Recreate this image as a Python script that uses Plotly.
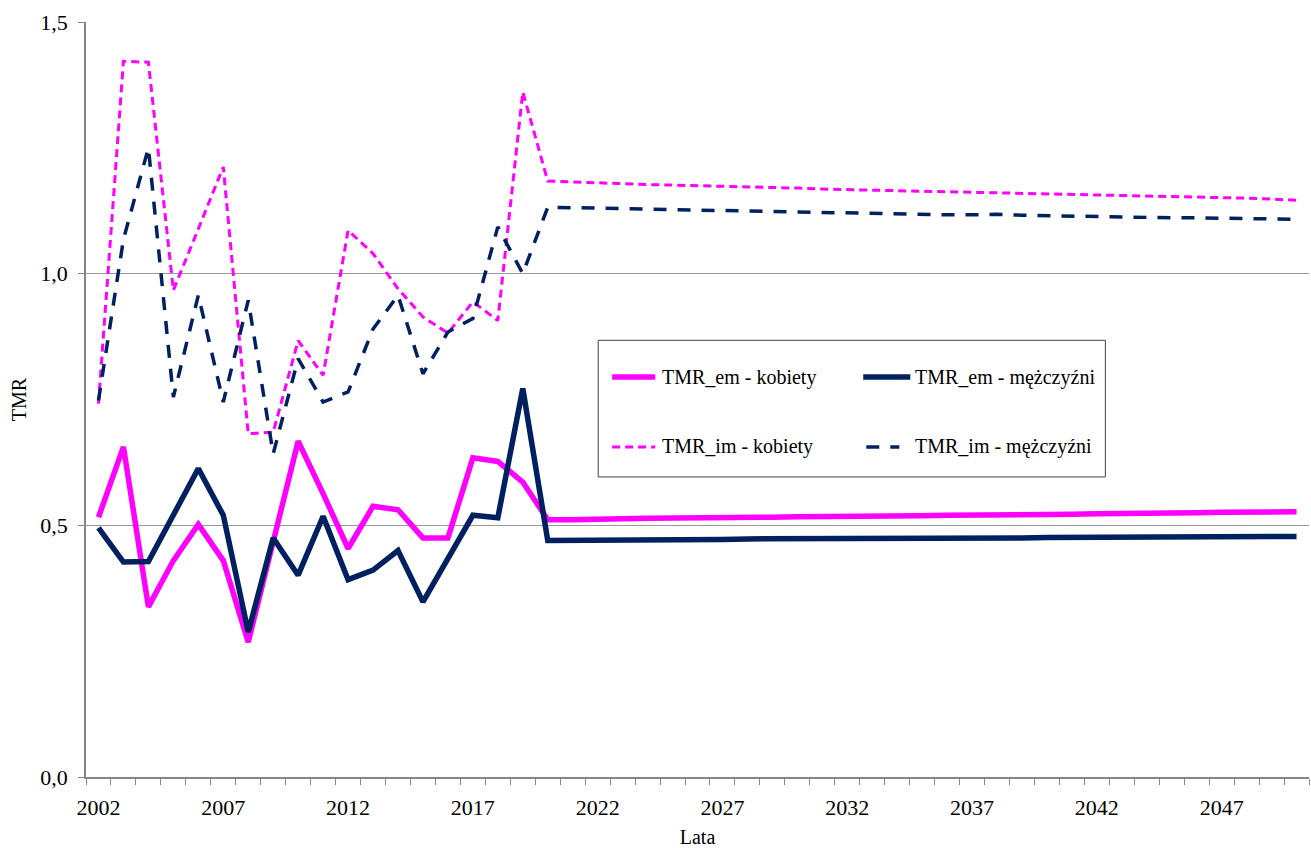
import plotly.graph_objects as go

years = list(range(2002, 2051))

em_kobiety = [0.516, 0.656, 0.338, 0.430, 0.502, 0.430, 0.268, 0.470, 0.667, 0.563,
              0.454, 0.538, 0.531, 0.475, 0.475, 0.634, 0.627, 0.586,
              0.511, 0.511, 0.513, 0.513, 0.514, 0.514, 0.515, 0.515, 0.516, 0.516,
              0.517, 0.517, 0.518, 0.518, 0.519, 0.519, 0.520, 0.520, 0.521, 0.521,
              0.522, 0.522, 0.523, 0.523, 0.524, 0.524, 0.525, 0.526, 0.526, 0.527, 0.527]

em_mezczyzni = [0.495, 0.427, 0.428, 0.520, 0.613, 0.520, 0.288, 0.475, 0.401, 0.518,
                0.392, 0.411, 0.450, 0.348, 0.434, 0.520, 0.515, 0.772,
                0.470, 0.470, 0.472, 0.472, 0.472, 0.472, 0.472, 0.472, 0.473, 0.473,
                0.473, 0.473, 0.473, 0.474, 0.474, 0.474, 0.475, 0.475, 0.474, 0.475,
                0.476, 0.476, 0.476, 0.476, 0.477, 0.477, 0.477, 0.478, 0.478, 0.478, 0.478]

im_kobiety = [0.742, 1.422, 1.420, 0.967, 1.089, 1.212, 0.682, 0.685, 0.867, 0.798,
              1.086, 1.040, 0.970, 0.914, 0.882, 0.944, 0.907, 1.361,
              1.184, 1.182, 1.180, 1.178, 1.177, 1.176, 1.175, 1.173, 1.172, 1.171,
              1.170, 1.168, 1.167, 1.166, 1.165, 1.163, 1.162, 1.161, 1.160, 1.159,
              1.158, 1.157, 1.156, 1.155, 1.154, 1.153, 1.152, 1.151, 1.150, 1.148, 1.146]

im_mezczyzni = [0.748, 1.068, 1.250, 0.755, 0.957, 0.745, 0.947, 0.642, 0.831, 0.745,
                0.765, 0.890, 0.957, 0.801, 0.884, 0.911, 1.093, 1.000,
                1.132, 1.131, 1.130, 1.129, 1.128, 1.127, 1.126, 1.125, 1.124, 1.123,
                1.122, 1.121, 1.120, 1.120, 1.119, 1.118, 1.117, 1.117, 1.118, 1.116,
                1.115, 1.114, 1.113, 1.113, 1.112, 1.111, 1.111, 1.110, 1.110, 1.109, 1.108]

tick_years = [2002, 2007, 2012, 2017, 2022, 2027, 2032, 2037, 2042, 2047]
y_ticks = [0.0, 0.5, 1.0, 1.5]

MAGENTA = "#FF00FF"
NAVY = "#002060"
FONT = "Liberation Serif, Times New Roman, serif"

series = [
    ("TMR_em - kobiety", em_kobiety, MAGENTA, 5.5, "solid"),
    ("TMR_em - mężczyźni", em_mezczyzni, NAVY, 5.5, "solid"),
    ("TMR_im - kobiety", im_kobiety, MAGENTA, 3, "8px,5px"),
    ("TMR_im - mężczyźni", im_mezczyzni, NAVY, 3.5, "13px,11px"),
]

fig = go.Figure()
for name, vals, col, w, dash in [series[2], series[3], series[0], series[1]]:
    fig.add_trace(go.Scatter(x=years, y=vals, mode="lines", name=name,
                             line=dict(color=col, width=w, dash=dash),
                             showlegend=False))

shapes = [dict(type="rect", xref="paper", yref="paper", x0=0.4188, x1=0.8335,
               y0=0.3974, y1=0.5784, line=dict(color="#404040", width=1),
               fillcolor="white", layer="below")]
annotations = []
legend_pos = [
    (series[0], 0.4302, 0.4654, 0.4695, 0.5298),
    (series[1], 0.6355, 0.6740, 0.6764, 0.5298),
    (series[2], 0.4302, 0.4654, 0.4695, 0.4371),
    (series[3], 0.6380, 0.6650, 0.6764, 0.4371),
]
for (name, vals, col, w, dash), sx0, sx1, tx, ty in legend_pos:
    shapes.append(dict(type="line", xref="paper", yref="paper", x0=sx0, x1=sx1,
                       y0=ty, y1=ty, line=dict(color=col, width=w, dash=dash)))
    annotations.append(dict(xref="paper", yref="paper", x=tx, y=ty, text=name,
                            showarrow=False, xanchor="left", yanchor="middle",
                            font=dict(family=FONT, size=20, color="black")))

fig.update_layout(
    width=1311, height=848,
    margin=dict(l=86, r=2, t=22, b=71, autoexpand=False),
    paper_bgcolor="white", plot_bgcolor="white",
    separators=",.",
    font=dict(family=FONT, size=20, color="black"),
    shapes=shapes, annotations=annotations,
    xaxis=dict(range=[2001.5, 2050.5], tickmode="array", tickvals=tick_years,
               ticktext=[str(t) for t in tick_years], ticks="", showgrid=False,
               showline=True, linecolor="#868686", linewidth=1.5, zeroline=False,
               automargin=False, ticklabelstandoff=10,
               tickfont=dict(family=FONT, size=22),
               minor=dict(tickmode="linear", tick0=2001.5, dtick=1, ticks="outside",
                          ticklen=6, tickcolor="#868686", showgrid=False),
               title=dict(text="Lata", font=dict(family=FONT, size=20), standoff=20)),
    yaxis=dict(range=[0, 1.5], tickmode="array", tickvals=y_ticks, tickformat=".1f",
               ticks="outside", ticklen=6, tickcolor="#868686",
               showgrid=True, gridcolor="#9A9A9A", gridwidth=1,
               showline=True, linecolor="#868686", linewidth=1.5, zeroline=False,
               automargin=False, ticklabelstandoff=6,
               tickfont=dict(family=FONT, size=22),
               title=dict(text="TMR", font=dict(family=FONT, size=20), standoff=8)),
)

fig.write_html("out.html", config={"displayModeBar": False},
               post_script="document.body.style.margin='0';document.body.style.padding='0';")
